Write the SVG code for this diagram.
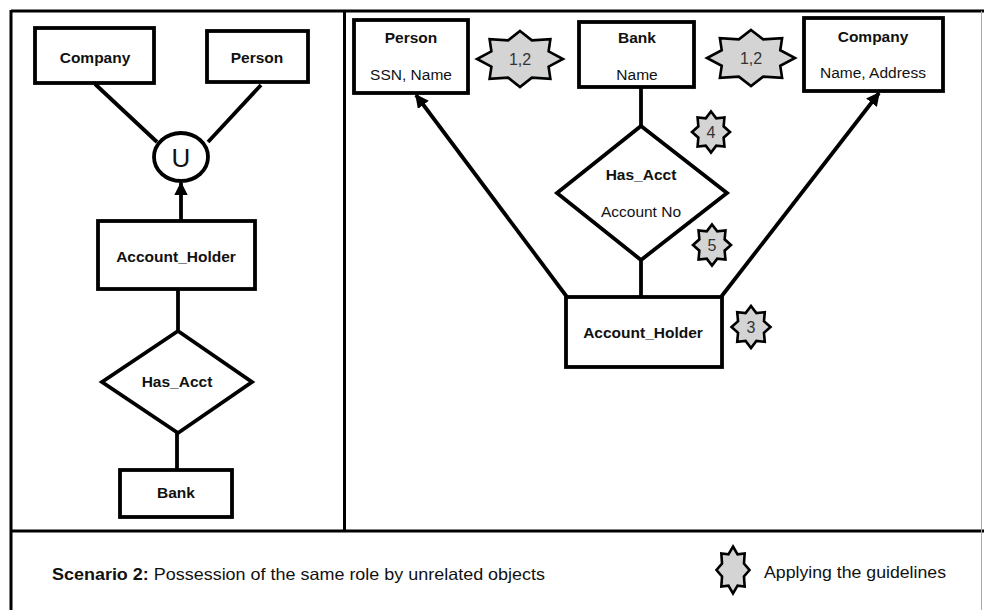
<svg xmlns="http://www.w3.org/2000/svg" width="984" height="610" viewBox="0 0 984 610">
  <style>
    .frame { stroke: #000; stroke-width: 3; fill: none; }
    .box { fill: #fff; stroke: #000; stroke-width: 3.8; }
    .rel { fill: #fff; stroke: #000; stroke-width: 3.8; stroke-linejoin: miter; }
    .edge { stroke: #000; stroke-width: 3.8; fill: none; }
    .t { font-family: "Liberation Sans", Arial, sans-serif; font-size: 15.5px; fill: #111; text-anchor: middle; }
    .b { font-weight: bold; }
    .num { font-family: "Liberation Sans", Arial, sans-serif; font-size: 16px; fill: #333; text-anchor: middle; }
    .legend { font-family: "Liberation Sans", Arial, sans-serif; font-size: 16.5px; fill: #111; }
  </style>
  <defs>
    <polygon id="star" fill="#d4d4d4" stroke="#000" stroke-width="2.6" stroke-linejoin="miter" vector-effect="non-scaling-stroke"
      points="0,-100 27.6,-66.5 70.7,-70.7 66.5,-27.6 100,0 66.5,27.6 70.7,70.7 27.6,66.5 0,100 -27.6,66.5 -70.7,70.7 -66.5,27.6 -100,0 -66.5,-27.6 -70.7,-70.7 -27.6,-66.5"/>
    <marker id="arrow" viewBox="0 0 10 10" refX="9" refY="5" markerWidth="3.6" markerHeight="3.6" orient="auto" markerUnits="strokeWidth">
      <path d="M0,0 L10,5 L0,10 z" fill="#000"/>
    </marker>
  </defs>

  <rect width="984" height="610" fill="#fff"/>

  <!-- panel frame -->
  <g id="frame">
    <line class="frame" x1="11" y1="11" x2="984" y2="11"/>
    <line class="frame" x1="11" y1="10" x2="11" y2="610"/>
    <line class="frame" x1="344.5" y1="11" x2="344.5" y2="531"/>
    <line class="frame" x1="11" y1="531" x2="984" y2="531"/>
    <line x1="981.5" y1="11" x2="981.5" y2="610" stroke="#aaa" stroke-width="1"/>
  </g>

  <!-- connectors -->
  <g id="connectors">
    <line class="edge" x1="95" y1="84" x2="157" y2="142"/>
    <line class="edge" x1="261" y1="85" x2="208" y2="142"/>
    <line class="edge" x1="181" y1="221" x2="181" y2="183" marker-end="url(#arrow)"/>
    <line class="edge" x1="178" y1="289" x2="178" y2="331"/>
    <line class="edge" x1="177" y1="433" x2="177" y2="470"/>
    <line class="edge" x1="641" y1="87" x2="641" y2="126"/>
    <line class="edge" x1="641" y1="260" x2="641" y2="297"/>
    <line class="edge" x1="567" y1="297" x2="416" y2="95" marker-end="url(#arrow)"/>
    <line class="edge" x1="721" y1="297" x2="879" y2="93" marker-end="url(#arrow)"/>
  </g>

  <!-- left panel: union type -->
  <g id="l-company">
    <rect class="box" x="35" y="28" width="119" height="55"/>
    <text class="t b" x="95" y="63">Company</text>
  </g>
  <g id="l-person">
    <rect class="box" x="207" y="31" width="101" height="51"/>
    <text class="t b" x="257" y="63">Person</text>
  </g>
  <g id="l-union">
    <ellipse cx="181" cy="157" rx="27" ry="24" fill="#fff" stroke="#000" stroke-width="3.8"/>
    <text x="181" y="167" font-family="Liberation Sans, Arial, sans-serif" font-size="26" text-anchor="middle" fill="#111">U</text>
  </g>
  <g id="l-account-holder">
    <rect class="box" x="98" y="221" width="157" height="68"/>
    <text class="t b" x="176" y="262">Account_Holder</text>
  </g>
  <g id="l-has-acct">
    <polygon class="rel" points="178,331 252,382 178,433 102,382"/>
    <text class="t b" x="177" y="387">Has_Acct</text>
  </g>
  <g id="l-bank">
    <rect class="box" x="120" y="470" width="112" height="47"/>
    <text class="t b" x="176" y="498">Bank</text>
  </g>

  <!-- right panel: role entity -->
  <g id="r-person">
    <rect class="box" x="354" y="20" width="114" height="73"/>
    <text class="t b" x="411" y="43">Person</text>
    <text class="t" x="411" y="80">SSN, Name</text>
  </g>
  <g id="r-bank">
    <rect class="box" x="579" y="22" width="115" height="65"/>
    <text class="t b" x="637" y="43">Bank</text>
    <text class="t" x="637" y="80">Name</text>
  </g>
  <g id="r-company">
    <rect class="box" x="804" y="18" width="139" height="73"/>
    <text class="t b" x="873" y="42">Company</text>
    <text class="t" x="873" y="78">Name, Address</text>
  </g>
  <g id="r-has-acct">
    <polygon class="rel" points="641,126 727,193 641,260 557,193"/>
    <text class="t b" x="641" y="180">Has_Acct</text>
    <text class="t" x="641" y="217">Account No</text>
  </g>
  <g id="r-account-holder">
    <rect class="box" x="566" y="297" width="156" height="70"/>
    <text class="t b" x="643" y="338">Account_Holder</text>
  </g>

  <!-- guideline markers -->
  <g id="mark-12a">
    <use href="#star" transform="translate(520,59) scale(0.43,0.28)"/>
    <text class="num" x="520" y="65">1,2</text>
  </g>
  <g id="mark-12b">
    <use href="#star" transform="translate(751,58) scale(0.44,0.28)"/>
    <text class="num" x="751" y="64">1,2</text>
  </g>
  <g id="mark-4">
    <use href="#star" transform="translate(711,132) scale(0.19,0.205)"/>
    <text class="num" x="711" y="138">4</text>
  </g>
  <g id="mark-5">
    <use href="#star" transform="translate(712,245) scale(0.19,0.205)"/>
    <text class="num" x="712" y="251">5</text>
  </g>
  <g id="mark-3">
    <use href="#star" transform="translate(751,327) scale(0.195,0.21)"/>
    <text class="num" x="751" y="333">3</text>
  </g>

  <!-- legend -->
  <g id="legend">
    <text class="legend" x="52" y="580" textLength="493" lengthAdjust="spacingAndGlyphs"><tspan font-weight="bold">Scenario 2:</tspan> Possession of the same role by unrelated  objects</text>
    <use href="#star" transform="translate(733,570) scale(0.165,0.235)"/>
    <text class="legend" x="764" y="578" textLength="182" lengthAdjust="spacingAndGlyphs">Applying the guidelines</text>
  </g>
</svg>
